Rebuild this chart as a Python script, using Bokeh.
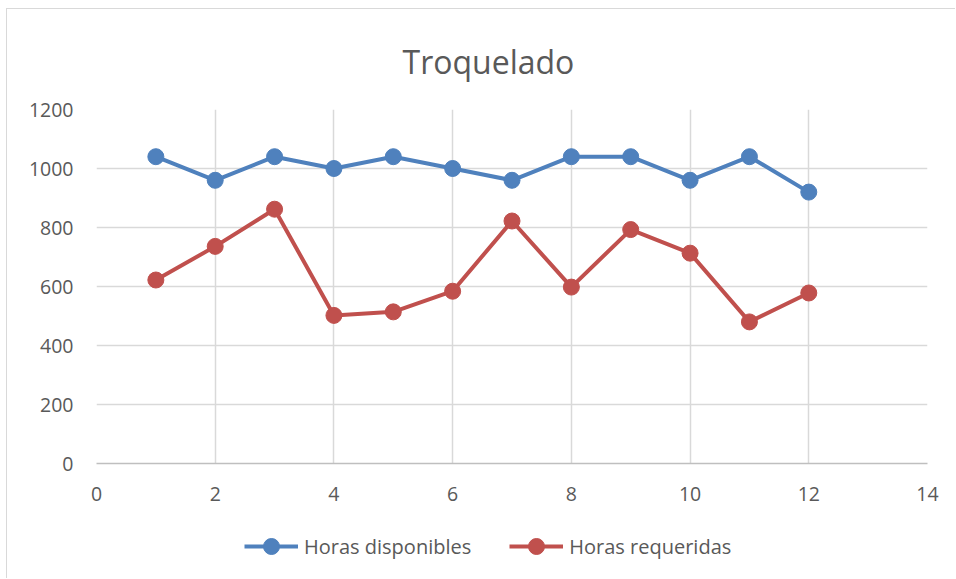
from bokeh.plotting import figure
from bokeh.layouts import column
from bokeh.models import Legend, LegendItem, FixedTicker, Range1d, Title
from bokeh.embed import file_html
from bokeh.resources import INLINE

mes = [1, 2, 3, 4, 5, 6, 7, 8, 9, 10, 11, 12]
horas_disponibles = [1040, 960, 1040, 1000, 1040, 1000, 960, 1040, 1040, 960, 1040, 920]
horas_requeridas = [622, 736, 862, 502, 514, 584, 822, 598, 793, 713, 480, 578]
x_ticks = [0, 2, 4, 6, 8, 10, 12, 14]
y_ticks = [0, 200, 400, 600, 800, 1000, 1200]
series_names = ["Horas disponibles", "Horas requeridas"]

FONT = "Open Sans"
TXT = "#595959"
BLUE = "#4f81bd"
RED = "#c0504d"
W = 948

p = figure(width=W, height=498, output_backend="svg", toolbar_location=None,
           x_range=Range1d(0, 14), y_range=Range1d(0, 1200),
           min_border_left=89, min_border_right=W - 920, min_border_top=100, min_border_bottom=44)
p.title = None
p.add_layout(Title(text="Troquelado", align="left", text_font=FONT, text_font_size="32px",
                   text_font_style="normal", text_color=TXT, standoff=54, offset=306), "above")

p.outline_line_color = None
p.background_fill_color = "white"
p.border_fill_color = "white"

p.xaxis.ticker = FixedTicker(ticks=x_ticks)
p.yaxis.ticker = FixedTicker(ticks=y_ticks)
for ax in (p.xaxis, p.yaxis):
    ax.major_label_text_font = FONT
    ax.major_label_text_font_size = "19.5px"
    ax.major_label_text_color = TXT
    ax.major_tick_line_color = None
    ax.minor_tick_line_color = None
p.yaxis.axis_line_color = None
p.xaxis.axis_line_color = "#bfbfbf"
p.xaxis.axis_line_width = 1.5
p.xaxis.major_label_standoff = 17
p.yaxis.major_label_standoff = 17

p.xgrid.grid_line_color = "#d9d9d9"
p.ygrid.grid_line_color = "#d9d9d9"
p.xgrid.grid_line_width = 1.5
p.ygrid.grid_line_width = 1.5

p.line(mes, horas_disponibles, line_color=BLUE, line_width=4)
p.scatter(mes, horas_disponibles, size=16, fill_color=BLUE, line_color=BLUE)
p.line(mes, horas_requeridas, line_color=RED, line_width=4)
p.scatter(mes, horas_requeridas, size=16, fill_color=RED, line_color=RED)

# legend strip below the chart (series drawn outside its visible range, only the legend shows)
lg = figure(width=W, height=71, output_backend="svg", toolbar_location=None,
            x_range=Range1d(0, 14), y_range=Range1d(-20, -10),
            min_border_left=0, min_border_right=0, min_border_top=0, min_border_bottom=0)
lg.axis.visible = False
lg.grid.visible = False
lg.outline_line_color = None
lg.border_fill_color = "white"
lg.background_fill_color = "white"
items = []
for name, col, vals in zip(series_names, [BLUE, RED], [horas_disponibles, horas_requeridas]):
    lr = lg.line(mes, vals, line_color=col, line_width=4)
    sr = lg.scatter(mes, vals, size=16, fill_color=col, line_color=col)
    items.append(LegendItem(label=name, renderers=[lr, sr]))
legend = Legend(items=items, orientation="horizontal", location=(148, 12),
                label_text_font=FONT, label_text_font_size="20px", label_text_color=TXT,
                glyph_width=54, glyph_height=40, label_standoff=6, spacing=38,
                border_line_color=None, background_fill_alpha=0)
lg.add_layout(legend, "center")

layout = column(p, lg, spacing=0)
layout.styles = {"border-left": "1.5px solid #d9d9d9", "border-top": "1.5px solid #d9d9d9",
                 "margin-left": "6px", "margin-top": "8px"}

open("out.html", "w").write(file_html(layout, INLINE))
